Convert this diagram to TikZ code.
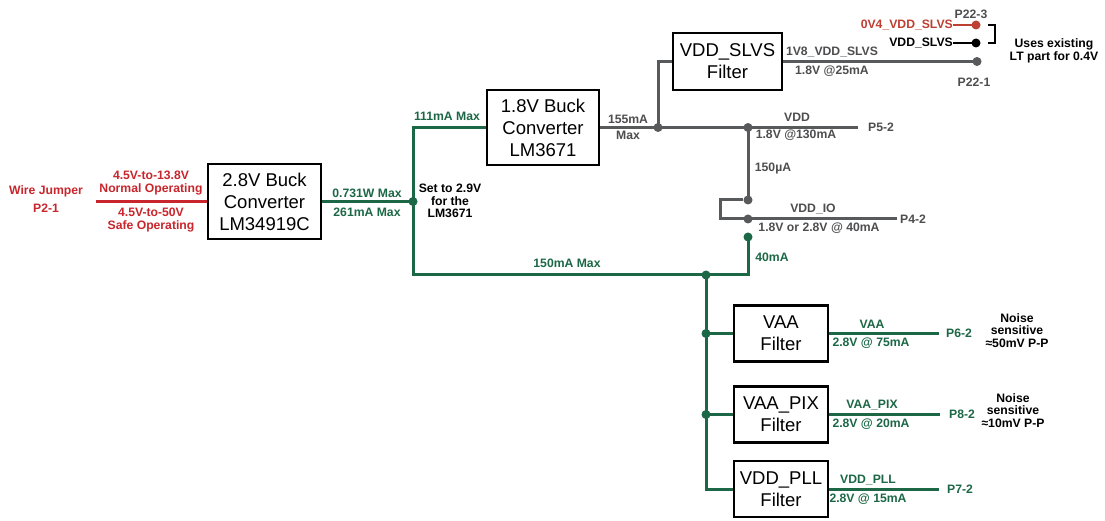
\documentclass[tikz,border=0pt]{standalone}
\usepackage{fontspec}
\setmainfont{Liberation Sans}
\definecolor{cred}{RGB}{200,38,44}
\definecolor{cred2}{RGB}{190,62,50}
\definecolor{cgreen}{RGB}{28,104,70}
\definecolor{cgray}{RGB}{88,89,91}
\definecolor{cgtxt}{RGB}{78,78,80}
\newcommand\lblf{\fontsize{12.2}{12.6}\selectfont\bfseries}
\newcommand\boxf{\fontsize{18.5}{22}\selectfont}
\tikzset{
  lbl/.style={font=\lblf, inner sep=0pt, align=center},
  boxn/.style={draw=black, line width=2.6pt, font=\boxf, align=center, inner sep=0pt},
  rl/.style={draw=cred, line width=3pt},
  gw/.style={draw=cgreen, line width=3pt},
  gy/.style={draw=cgray, line width=3pt},
  kl/.style={draw=black, line width=2.6pt},
  dotn/.style={circle, inner sep=0pt, minimum size=9pt},
}
\begin{document}
\begin{tikzpicture}[x=1pt,y=-1pt]
\useasboundingbox[fill=white] (0,0) rectangle (1105,521);

% boxes
\node[boxn, minimum width=113pt, minimum height=75pt] (b28) at (264.5,201.5) {2.8V Buck\\Converter\\LM34919C};
\node[boxn, minimum width=112pt, minimum height=75pt] (b18) at (543,127.5) {1.8V Buck\\Converter\\LM3671};
\node[boxn, minimum width=109pt, minimum height=57pt] (bslvs) at (727.5,61.5) {VDD\_SLVS\\Filter};
\node[boxn, minimum width=94pt, minimum height=56pt] (bvaa) at (781,333.5) {VAA\\Filter};
\node[boxn, minimum width=94pt, minimum height=56pt] (bpix) at (781,414.5) {VAA\_PIX\\Filter};
\node[boxn, minimum width=94pt, minimum height=56pt] (bpll) at (781,489) {VDD\_PLL\\Filter};

% junction dots
\node[dotn, fill=cgreen] (j1) at (413,201.5) {};
\node[dotn, fill=cgreen] (j2) at (706,275) {};
\node[dotn, fill=cgreen] (j3) at (706,333.5) {};
\node[dotn, fill=cgreen] (j4) at (706,414.5) {};
\node[dotn, fill=cgreen] (gd) at (748,237) {};
\node[dotn, fill=cgray] (j5) at (658,127.5) {};
\node[dotn, fill=cgray] (j6) at (748,127.5) {};
\node[dotn, fill=cgray] (d1) at (748,200) {};
\node[dotn, fill=cgray] (d2) at (748,219) {};
\node[dotn, fill=cgray] (p221) at (977,61.5) {};
\node[dotn, fill=cred2] (r1) at (976,25) {};
\node[dotn, fill=black] (k1) at (976,43) {};

% free ends
\coordinate (rs) at (96,201.5);
\coordinate (gc) at (413,275);
\coordinate (gt) at (748,275);
\coordinate (gb) at (706,489);
\coordinate (e52) at (858,127.5);
\coordinate (e42) at (897,219);
\coordinate (e62) at (939,333.5);
\coordinate (e82) at (940,414.5);
\coordinate (e72) at (939,489);

% red input
\draw[rl] (rs) -- (rs -| b28.west);

% green network
\draw[gw] (b28.east) -- (j1.center);
\draw[gw] (j1.center) |- (b18.west);
\draw[gw] (j1.center) -- (gc) -- (j2.center) -- (gt) -- (gd.center);
\draw[gw] (j2.center) -- (j3.center) -- (j4.center) -- (gb) -- (bpll.west);
\draw[gw] (j3.center) -- (bvaa.west);
\draw[gw] (j4.center) -- (bpix.west);
\draw[gw] (bvaa.east) -- (e62);
\draw[gw] (bpix.east) -- (e82);
\draw[gw] (bpll.east) -- (e72);

% gray network
\draw[gy] (b18.east) -- (j5.center) -- (j6.center) -- (e52);
\draw[gy] (j5.center) |- (bslvs.west);
\draw[gy] (bslvs.east) -- (p221.center);
\draw[gy] (j6.center) -- (d1.center);
\draw[gy] (d1.west) -- ++(-23,0) |- (d2.center);
\draw[gy] (d2.center) -- (e42);

% top-right jumper
\node[lbl, text=cred2, anchor=east] (l0v4) at (953,25) {0V4\_VDD\_SLVS};
\node[lbl, text=black, anchor=east] (lslvs) at (953,43) {VDD\_SLVS};
\draw[draw=cred2, line width=2.2pt] (l0v4.east) -- (r1.center);
\draw[draw=black, line width=2.2pt] (lslvs.east) -- (k1.center);
\draw[kl] (988,25) -- (995,25) -- (995,43) -- (988,43);
\node[lbl, text=cgtxt] (lp223) at (971,14) {P22-3};
\node[lbl, text=cgtxt] (lp221) at (974,82) {P22-1};
\node[lbl, text=black] (luse) at (1054,51) {Uses existing\\LT part for 0.4V};

% left labels
\node[lbl, text=cred] (lwj) at (46,199) {Wire Jumper\\[5pt]P2-1};
\node[lbl, text=cred] (lno) at (151,183) {4.5V-to-13.8V\\Normal Operating};
\node[lbl, text=cred] (lsafe) at (151,220) {4.5V-to-50V\\Safe Operating};
\node[lbl, text=cgreen] (l731) at (367,193) {0.731W Max};
\node[lbl, text=cgreen] (l261) at (367,212) {261mA Max};
\node[lbl, text=black] (lset) at (450,201) {Set to 2.9V\\for the\\LM3671};
\node[lbl, text=cgreen] (l111) at (447,116) {111mA Max};
\node[lbl, text=cgreen] (l150) at (567,263) {150mA Max};

% gray labels
\node[lbl, text=cgtxt] (l155) at (628,127.5) {155mA\\[4pt]Max};
\node[lbl, text=cgtxt] (l1v8) at (832,52) {1V8\_VDD\_SLVS};
\node[lbl, text=cgtxt] (l25) at (832,71) {1.8V @25mA};
\node[lbl, text=cgtxt] (lvdd) at (797,117) {VDD};
\node[lbl, text=cgtxt] (l130) at (796,135.5) {1.8V @130mA};
\node[lbl, text=cgtxt, anchor=west] (lp52) at (868,127.5) {P5-2};
\node[lbl, text=cgtxt] (l150u) at (773,169) {150µA};
\node[lbl, text=cgtxt] (lvddio) at (813,208.5) {VDD\_IO};
\node[lbl, text=cgtxt] (l40) at (819,228) {1.8V or 2.8V @ 40mA};
\node[lbl, text=cgtxt, anchor=west] (lp42) at (900,219) {P4-2};
\node[lbl, text=cgreen] (l40m) at (772,257) {40mA};

% output labels
\node[lbl, text=cgreen] (lvaa) at (872,324) {VAA};
\node[lbl, text=cgreen] (l75) at (871,343) {2.8V @ 75mA};
\node[lbl, text=cgreen, anchor=west] (lp62) at (946,333.5) {P6-2};
\node[lbl, text=black] (ln1) at (1017,330.5) {Noise\\sensitive\\≈50mV P-P};
\node[lbl, text=cgreen] (lpix) at (872,405.5) {VAA\_PIX};
\node[lbl, text=cgreen] (l20) at (871,424) {2.8V @ 20mA};
\node[lbl, text=cgreen, anchor=west] (lp82) at (949,414.5) {P8-2};
\node[lbl, text=black] (ln2) at (1013,410.5) {Noise\\sensitive\\≈10mV P-P};
\node[lbl, text=cgreen] (lpll) at (868,480) {VDD\_PLL};
\node[lbl, text=cgreen] (l15) at (868,499) {2.8V @ 15mA};
\node[lbl, text=cgreen, anchor=west] (lp72) at (947,489) {P7-2};
\end{tikzpicture}
\end{document}
